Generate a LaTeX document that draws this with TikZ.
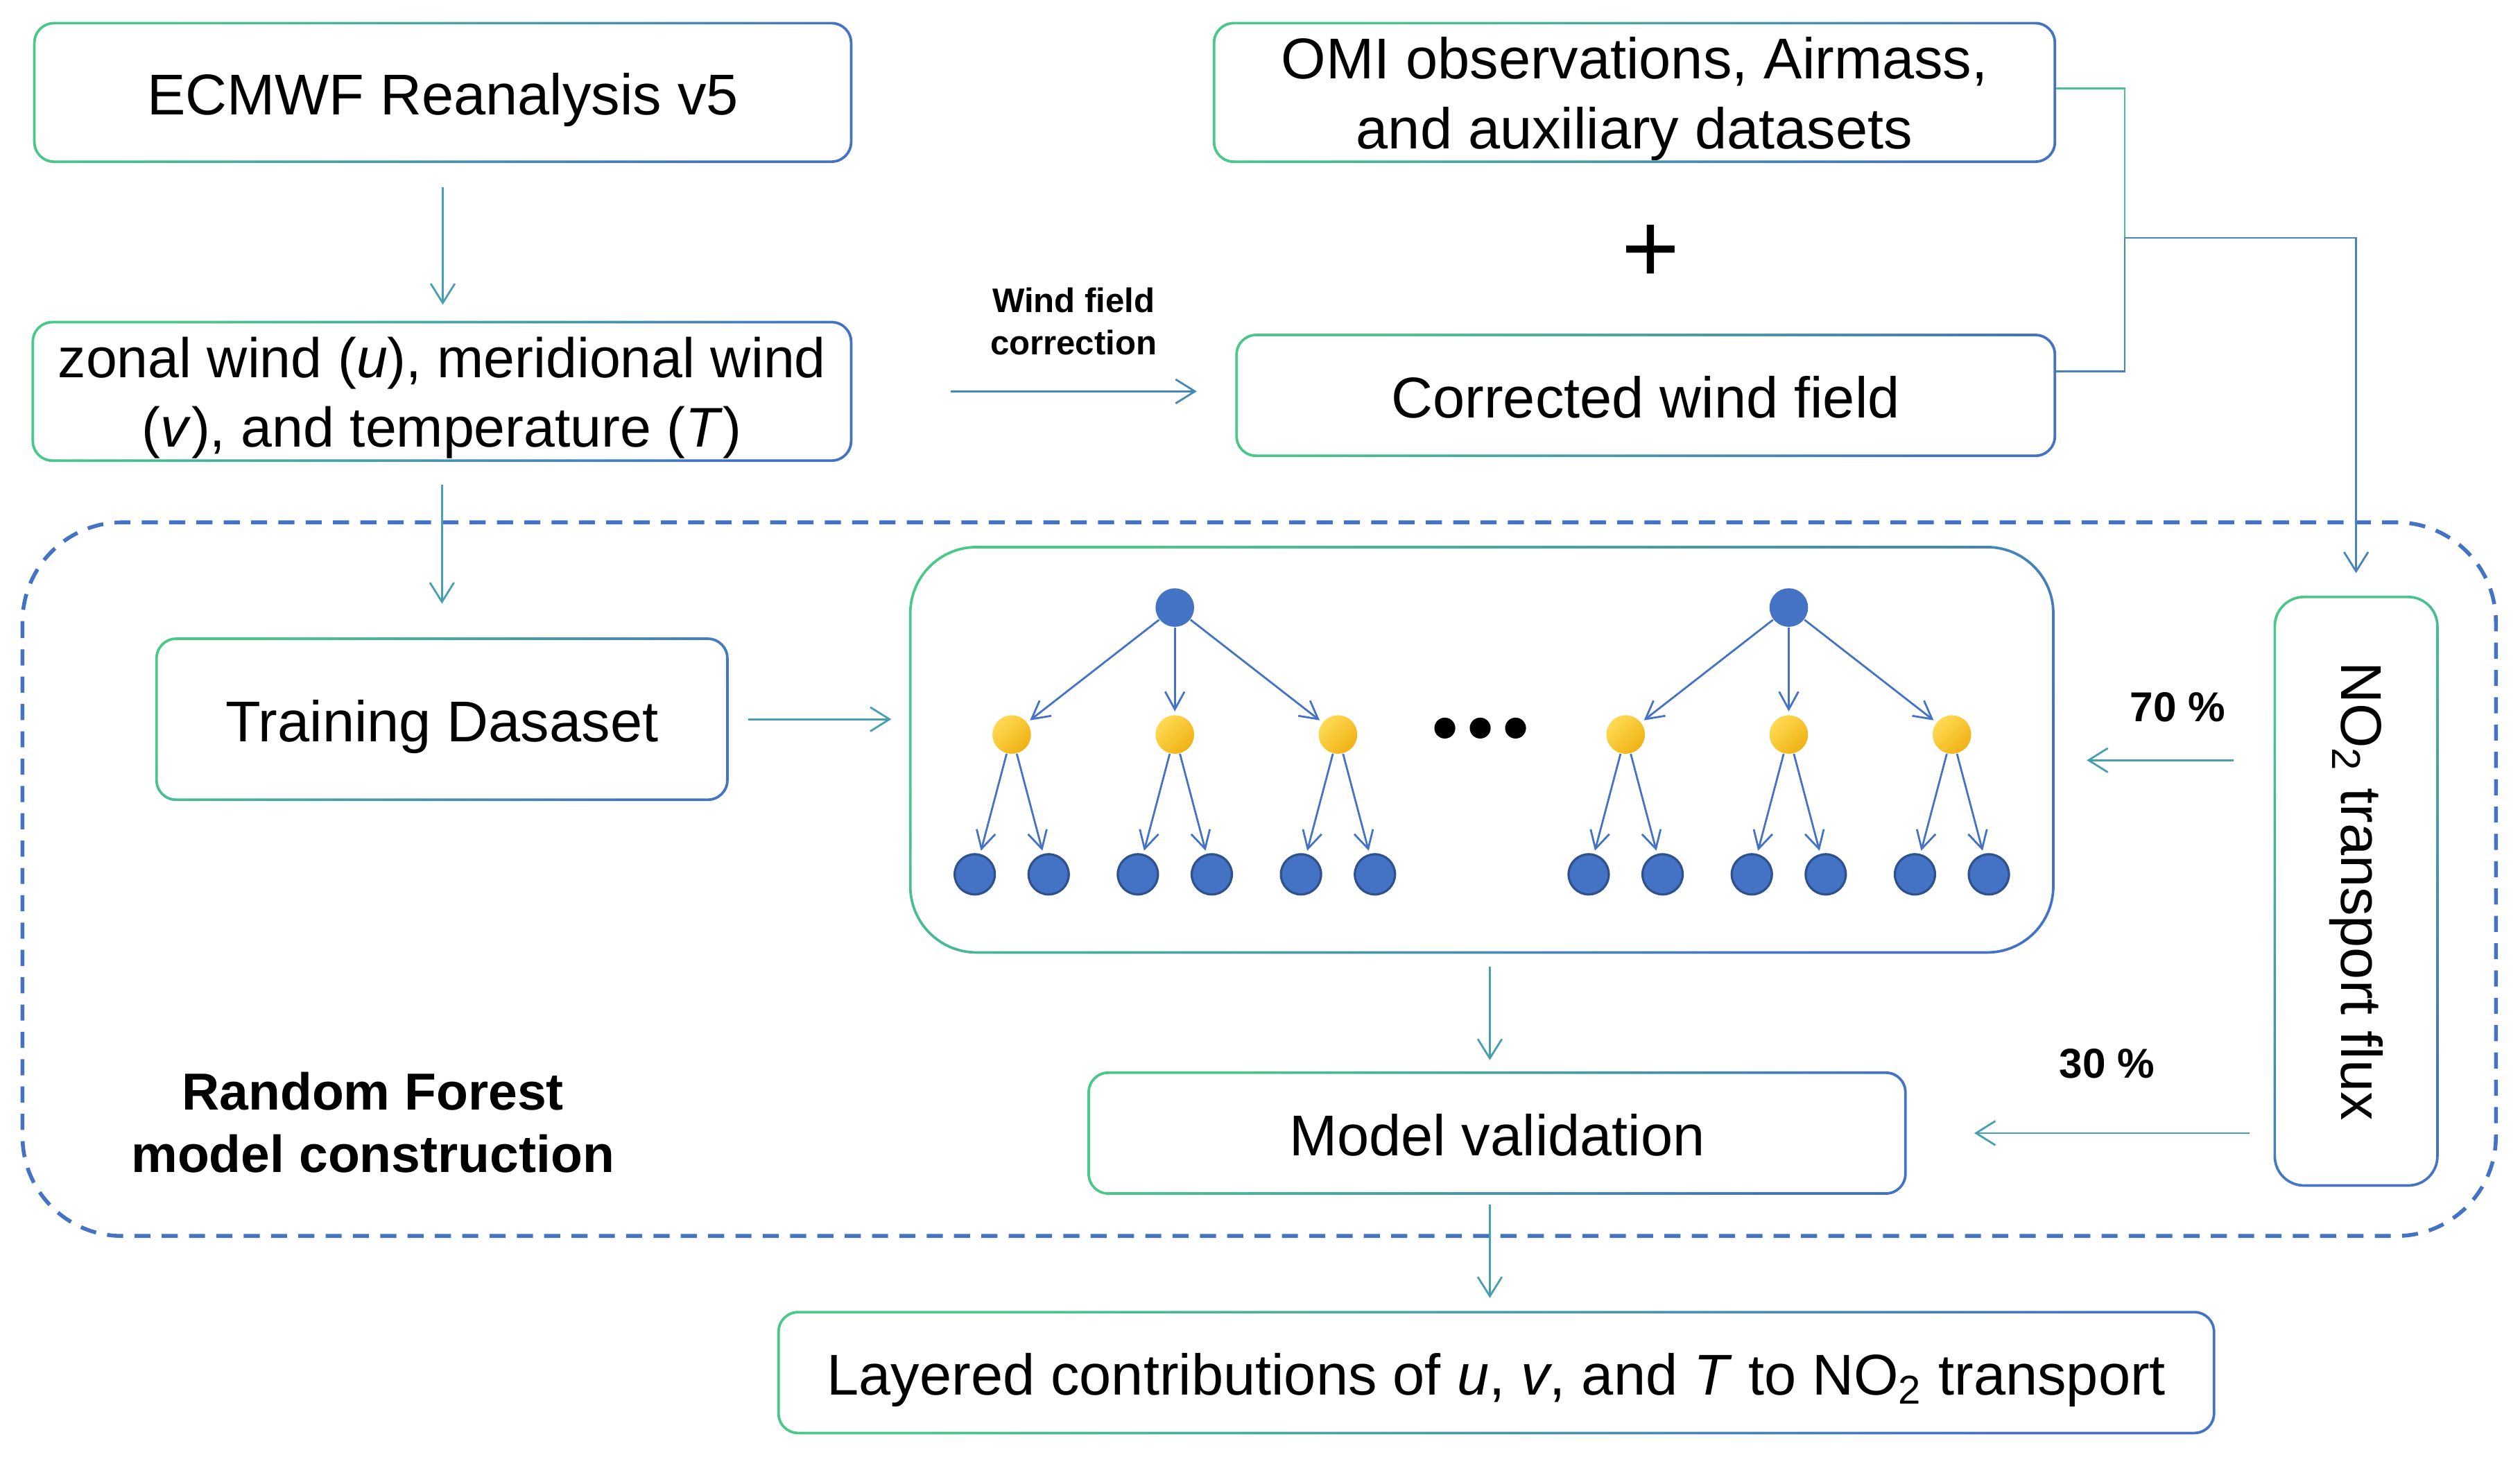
\documentclass[tikz,border=0pt]{standalone}
\usepackage{fontspec}
\setmainfont{Liberation Sans}
\usetikzlibrary{arrows.meta,calc}
\definecolor{grn}{RGB}{74,200,138}
\definecolor{blu}{RGB}{68,114,196}
\definecolor{tealc}{RGB}{70,160,175}
\definecolor{bluD}{RGB}{47,82,143}
\definecolor{ylwL}{RGB}{255,218,85}
\definecolor{ylwD}{RGB}{240,178,20}
\tikzset{
  box/.style      = {inner sep=0pt,align=center,text height=14pt,text depth=0pt,
                     font=\fontsize{17.9}{22}\selectfont},
  boxtxt/.style   = {inner sep=0pt,align=center,font=\fontsize{17.9}{22}\selectfont},
  ringshade/.style= {left color=grn,right color=blu,shading angle=45,even odd rule},
  flow/.style     = {-{Straight Barb[length=6pt,width=7.5pt]},line width=0.6pt,tealc},
  treearr/.style  = {-{Straight Barb[length=5.5pt,width=6pt]},line width=0.6pt,blu,shorten >=1pt},
  rootnd/.style   = {circle,fill=blu,minimum size=12pt,inner sep=0pt},
  midnd/.style    = {circle,left color=ylwL,right color=ylwD,shading angle=45,minimum size=12pt,inner sep=0pt},
  leafnd/.style   = {circle,fill=blu,draw=bluD,line width=0.7pt,minimum size=12.5pt,inner sep=0pt},
  pctlbl/.style   = {font=\bfseries\fontsize{13}{15.6}\selectfont}
}
% gradient border round a named box
\newcommand{\ringbox}[2]{%
  \shade[ringshade,rounded corners=#2]
    (#1.north west) rectangle (#1.south east)
    [rounded corners=#2-0.8pt]
    ([shift={(0.8pt,-0.8pt)}]#1.north west) rectangle ([shift={(-0.8pt,0.8pt)}]#1.south east);
}
\begin{document}
\begin{tikzpicture}[x=0.5pt,y=-0.5pt]
  \useasboundingbox (0,0) rectangle (1568,906.5);
  \draw[blu,line width=1.2pt,dash pattern=on 5pt off 3.5pt,rounded corners=31pt] (14,325) rectangle (1553,769);
  % boxes
  \node[box,minimum width=254.5pt,minimum height=43.5pt] (ecmwf) at (275.5,57.5) {ECMWF Reanalysis v5};
  \node[box,minimum width=255pt,minimum height=43.5pt] (uvt) at (275,243.5) {};
  \node[boxtxt,font=\fontsize{17.4}{21.5}\selectfont] (uvttxt) at (275,247.5)
    {zonal wind (\textit{u}), meridional wind\\(\textit{v}), and temperature (\textit{T})};
  \node[box,minimum width=262pt,minimum height=43.5pt] (omi) at (1017,57.5) {};
  \node[boxtxt] (omitxt) at (1017,61.5) {OMI observations, Airmass,\\and auxiliary datasets};
  \node[box,minimum width=255pt,minimum height=38pt] (corr) at (1024,246) {Corrected wind field};
  \node[box,minimum width=178pt,minimum height=50.5pt] (train) at (275,447.5) {Training Dasaset};
  \node[box,minimum width=356pt,minimum height=126.5pt] (forest) at (922,466.5) {};
  \node[box,minimum width=51pt,minimum height=183.5pt] (no2) at (1466,554.5) {};
  \node[boxtxt,rotate=-90] (no2txt) at (no2) {NO\textsubscript{2} transport flux};
  \node[box,minimum width=254.5pt,minimum height=38pt] (valid) at (931.5,705) {Model validation};
  \node[box,minimum width=447pt,minimum height=38pt] (layer) at (931,854)
    {Layered contributions of \textit{u}, \textit{v}, and \textit{T} to NO\textsubscript{2} transport};
  \foreach \n in {ecmwf,uvt,omi,corr,train,valid,layer} {\ringbox{\n}{6.5pt}}
  \ringbox{forest}{21pt}
  \ringbox{no2}{9.5pt}
  \node[font=\fontsize{31}{31}\selectfont] (plus) at (1027,158) {+};
  % trees
  \foreach \t/\rx in {1/731,2/1113} {
    \node[rootnd] (r\t) at (\rx,378) {};
    \foreach \j/\dx in {1/-101.5,2/0,3/101.5} {
      \node[midnd] (m\t\j) at (\rx+\dx,457) {};
      \node[leafnd] (la\t\j) at (\rx+\dx-23,544) {};
      \node[leafnd] (lb\t\j) at (\rx+\dx+23,544) {};
      \draw[treearr] (r\t) -- (m\t\j);
      \draw[treearr] (m\t\j) -- (la\t\j);
      \draw[treearr] (m\t\j) -- (lb\t\j);
    }
  }
  \foreach \k in {0,1,2}
    \node[circle,fill=black,minimum size=6.5pt,inner sep=0pt] (dot\k) at (899+22*\k,453) {};
  % labels
  \node[font=\bfseries\fontsize{10.6}{13}\selectfont,align=center] (wflbl) at (668,200) {Wind field\\correction};
  \node[pctlbl] (p70) at (1355,440) {70 \%};
  \node[pctlbl] (p30) at (1311,662) {30 \%};
  \node[font=\bfseries\fontsize{16.2}{19.5}\selectfont,align=center] (rflbl) at (232,698.5)
    {Random Forest\\model construction};
  % connectors
  \coordinate (vx) at (927,0);
  \draw[flow,shorten <=7.5pt,shorten >=5pt] (ecmwf.south) -- (ecmwf.south |- uvt.north);
  \draw[flow,shorten <=7pt,shorten >=10.5pt] (uvt.south) -- (uvt.south |- train.north);
  \draw[flow,shorten <=6pt,shorten >=5.5pt] (train.east) -- (train.east -| forest.west);
  \draw[flow,blu!75!grn,shorten <=30.5pt,shorten >=12pt] (uvt.east) -- (uvt.east -| corr.west);
  \draw[flow,shorten <=4pt,shorten >=3.5pt] (forest.south -| vx) -- (valid.north -| vx);
  \draw[flow,shorten <=3pt,shorten >=4pt] (valid.south -| vx) -- (layer.north -| vx);
  \coordinate (t70) at ($(no2.west)+(0,-81.5)$);
  \draw[flow,shorten <=12.5pt,shorten >=10pt] (t70) -- (t70 -| forest.east);
  \draw[flow,shorten <=7.5pt,shorten >=21pt] (valid.east -| no2.west) -- (valid.east);
  \coordinate (jn) at (1322,148);
  \draw[grn!80!tealc,line width=0.6pt] ([yshift=1.2pt]omi.east) -| (jn);
  \draw[blu!80!grn,line width=0.6pt] ([yshift=7.5pt]corr.east) -| (jn);
  \draw[flow,blu!80!grn,shorten >=7pt] (jn) -| (no2.north);
\end{tikzpicture}
\end{document}
